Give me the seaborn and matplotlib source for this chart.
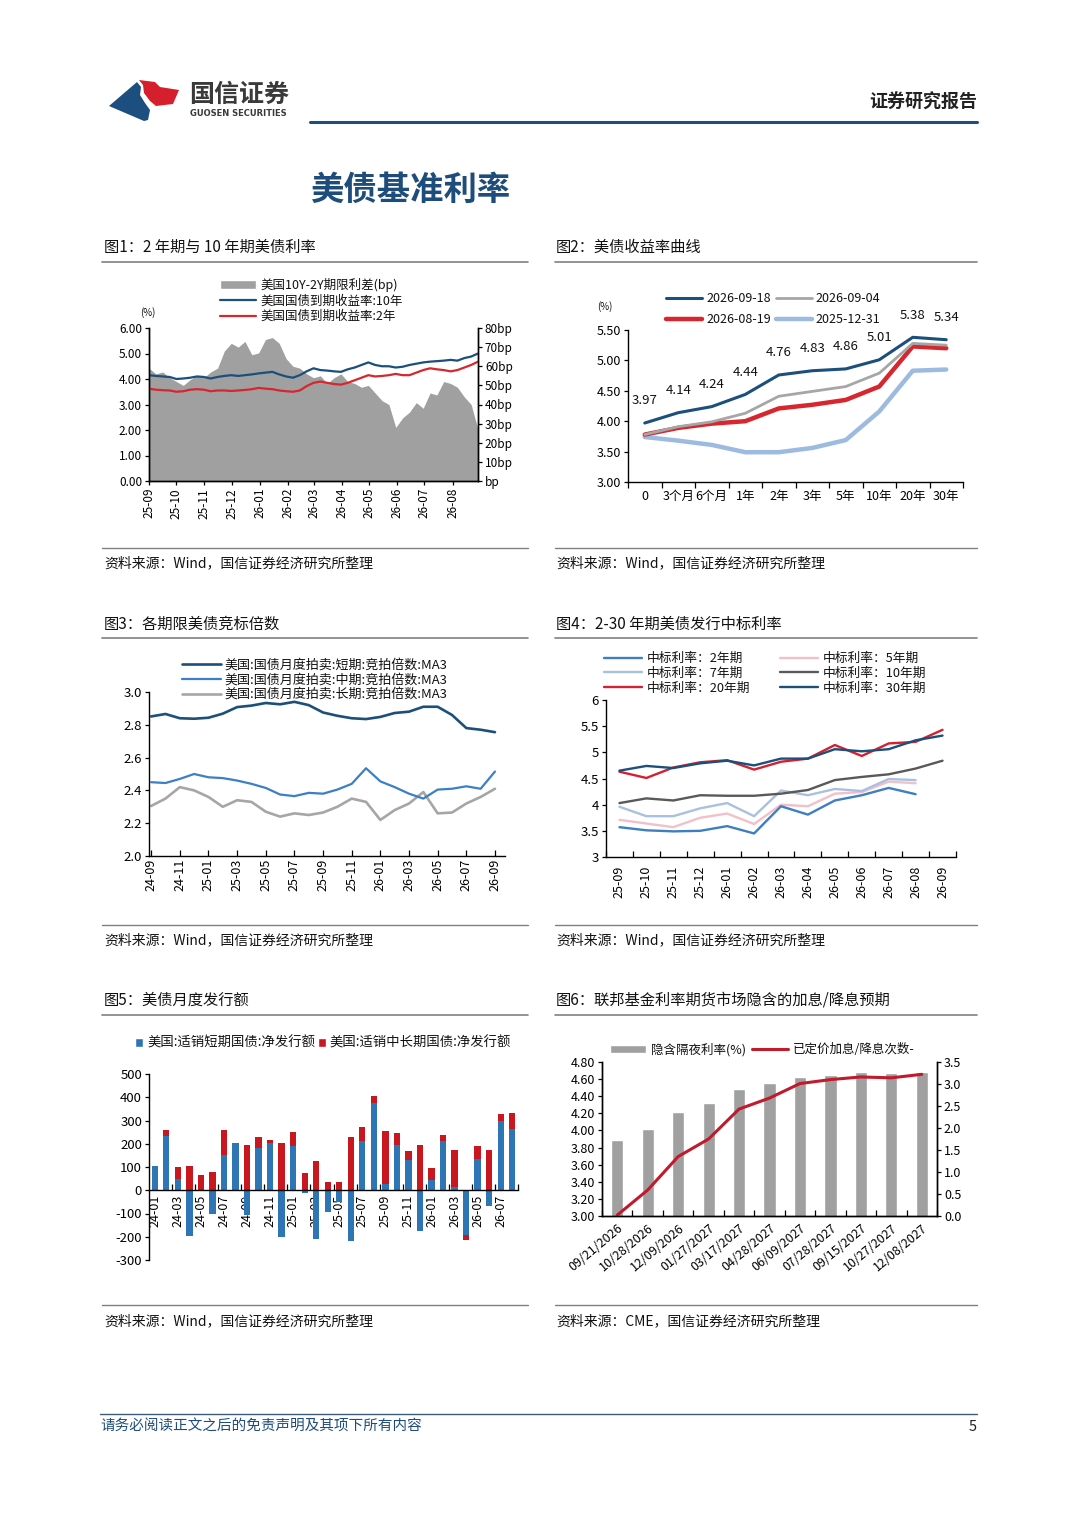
import numpy as np
import pandas as pd
import seaborn as sns
import matplotlib.pyplot as plt
from matplotlib.patches import Polygon, Patch
from matplotlib.lines import Line2D

sns.set_theme(style="ticks")
plt.rcParams["font.family"] = ["Noto Sans CJK SC", "DejaVu Sans"]
plt.rcParams["axes.unicode_minus"] = False
plt.rcParams["axes.edgecolor"] = "black"
plt.rcParams["text.color"] = "#111111"
plt.rcParams["xtick.color"] = "black"
plt.rcParams["ytick.color"] = "black"

W, H = 1080, 1527
NAVY = "#1b4f7c"
RED = "#d7262e"
GRAY = "#a0a0a0"

# 图1: 2年期与10年期美债利率 (周度读数)
f1_dates = pd.date_range("2025-09-01", "2026-08-29", periods=49)
f1_spread = [59, 56, 57, 54, 52, 50, 53, 55, 54, 57, 59, 68, 72, 70, 73, 66,
             67, 74, 75, 72, 64, 60, 59, 56, 54, 55, 51, 54, 56, 52, 51, 49,
             50, 46, 42, 40, 28, 33, 36, 41, 38, 46, 45, 52, 51, 49, 44, 40, 27]
f1_y10 = [4.15, 4.12, 4.10, 4.08, 4.00, 4.02, 4.05, 4.10, 4.08, 4.02, 4.08, 4.12,
          4.15, 4.12, 4.15, 4.18, 4.22, 4.25, 4.28, 4.18, 4.10, 4.05, 4.15, 4.30,
          4.42, 4.35, 4.33, 4.30, 4.28, 4.38, 4.45, 4.55, 4.65, 4.55, 4.50, 4.50,
          4.45, 4.48, 4.55, 4.60, 4.65, 4.68, 4.70, 4.72, 4.75, 4.72, 4.82, 4.88, 5.00]
f1_y2 = [3.62, 3.58, 3.56, 3.55, 3.50, 3.52, 3.58, 3.60, 3.58, 3.52, 3.55, 3.55,
         3.53, 3.55, 3.57, 3.60, 3.65, 3.62, 3.60, 3.55, 3.52, 3.50, 3.55, 3.72,
         3.85, 3.90, 3.85, 3.80, 3.78, 3.85, 3.95, 4.05, 4.15, 4.10, 4.12, 4.15,
         4.20, 4.15, 4.15, 4.25, 4.35, 4.42, 4.38, 4.35, 4.30, 4.35, 4.45, 4.55, 4.68]
f1_ticks = pd.date_range("2025-09-01", "2026-08-01", freq="MS")

# 图2: 美债收益率曲线
f2_tenors = ["0", "3个月", "6个月", "1年", "2年", "3年", "5年", "10年", "20年", "30年"]
f2_0918 = [3.97, 4.14, 4.24, 4.44, 4.76, 4.83, 4.86, 5.01, 5.38, 5.34]
f2_0904 = [3.78, 3.91, 3.99, 4.13, 4.41, 4.49, 4.57, 4.79, 5.28, 5.25]
f2_0819 = [3.78, 3.89, 3.96, 4.00, 4.21, 4.27, 4.35, 4.57, 5.23, 5.20]
f2_1231 = [3.74, 3.68, 3.61, 3.49, 3.49, 3.56, 3.69, 4.16, 4.83, 4.85]

# 图3: 竞标倍数 MA3 (月度)
f3_months = list(pd.date_range("2024-09-01", "2026-09-01", freq="MS").strftime("%y-%m"))
f3_short = [2.851, 2.866, 2.84, 2.837, 2.843, 2.868, 2.908, 2.917, 2.933, 2.925, 2.94,
            2.92, 2.875, 2.855, 2.84, 2.835, 2.848, 2.872, 2.88, 2.91, 2.91, 2.86,
            2.78, 2.77, 2.755]
f3_mid = [2.45, 2.445, 2.47, 2.50, 2.48, 2.475, 2.46, 2.44, 2.415, 2.375, 2.365, 2.385,
          2.38, 2.405, 2.44, 2.535, 2.455, 2.42, 2.38, 2.35, 2.405, 2.41, 2.425, 2.41, 2.515]
f3_long = [2.305, 2.35, 2.42, 2.40, 2.36, 2.30, 2.34, 2.33, 2.27, 2.24, 2.26, 2.25,
           2.265, 2.30, 2.35, 2.33, 2.22, 2.28, 2.32, 2.39, 2.26, 2.265, 2.32, 2.36, 2.41]

# 图4: 中标利率 (月度)
f4_months = list(pd.date_range("2025-09-01", "2026-09-01", freq="MS").strftime("%y-%m"))
f4_2y = [3.57, 3.51, 3.49, 3.50, 3.59, 3.45, 3.97, 3.81, 4.08, 4.18, 4.32, 4.20]
f4_5y = [3.71, 3.64, 3.57, 3.75, 3.83, 3.63, 4.00, 3.97, 4.21, 4.24, 4.44, 4.41]
f4_7y = [3.96, 3.78, 3.78, 3.93, 4.03, 3.78, 4.27, 4.18, 4.30, 4.26, 4.49, 4.47]
f4_10y = [4.03, 4.12, 4.08, 4.18, 4.17, 4.17, 4.21, 4.28, 4.47, 4.53, 4.58, 4.69, 4.84]
f4_20y = [4.63, 4.51, 4.71, 4.81, 4.85, 4.67, 4.82, 4.88, 5.14, 4.93, 5.17, 5.20, 5.43]
f4_30y = [4.65, 4.74, 4.70, 4.79, 4.84, 4.75, 4.88, 4.88, 5.06, 5.02, 5.06, 5.23, 5.32]

# 图5: 美债月度净发行额
f5_months = list(pd.date_range("2024-01-01", "2026-08-01", freq="MS").strftime("%y-%m"))
f5_short = [105, 232, 50, -197, -3, -100, 151, 205, -105, 181, 203, -200, 191, -12, -211, -94,
            -50, -219, 213, 374, 29, 196, 131, -174, 46, 213, 13, -193, 136, -66, 296, 263]
f5_long = [0, 26, 52, 103, 67, 80, 107, 0, 195, 46, 11, 205, 58, 74, 124, 37,
           36, 229, 58, 32, 227, 51, 36, 194, 48, 23, 158, -21, 53, 174, 30, 71]

# 图6: 联邦基金利率期货隐含预期
f6_dates = ["09/21/2026", "10/28/2026", "12/09/2026", "01/27/2027", "03/17/2027",
            "04/28/2027", "06/09/2027", "07/28/2027", "09/15/2027", "10/27/2027", "12/08/2027"]
f6_rate = [3.89, 4.02, 4.21, 4.32, 4.48, 4.55, 4.63, 4.65, 4.68, 4.67, 4.68]
f6_hikes = [0.02, 0.59, 1.35, 1.75, 2.43, 2.68, 3.01, 3.10, 3.16, 3.14, 3.22]

fig = plt.figure(figsize=(W / 100, H / 100), dpi=100)
fig.patch.set_facecolor("white")


def place(left, top, width, height):
    return fig.add_axes([left / W, 1 - (top + height) / H, width / W, height / H])


def fig_xy(x, y):
    return (x / W, 1 - y / H)


# ---------- page furniture ----------
pg = place(0, 0, W, H)
pg.set_xlim(0, W)
pg.set_ylim(H, 0)
pg.axis("off")

pg.add_patch(Polygon([(109, 106), (137, 82), (141, 87), (140, 95), (145, 103),
                      (150, 110), (148, 120), (144, 121)], closed=True, color="#1d4e80", lw=0))
pg.add_patch(Polygon([(139, 80), (155, 82), (160, 87), (179, 90), (173, 104),
                      (156, 106), (150, 101), (144, 93), (143, 85)], closed=True,
                     color="#d61f2c", lw=0))
pg.text(189, 95, "国信证券", fontsize=18, fontweight="bold", color="#3a3a3a", va="center")
pg.text(190, 114, "GUOSEN SECURITIES", fontsize=6, fontweight="bold", color="#3a3a3a",
        va="center", family=["DejaVu Sans"])
pg.text(977, 102, "证券研究报告", fontsize=13, fontweight="bold", color="#222222",
        ha="right", va="center")
pg.plot([310, 977], [122, 122], color="#1f4e79", lw=2.2)
pg.text(310, 190, "美债基准利率", fontsize=24, fontweight="bold", color="#1e4d7b", va="center")

titles = [(104, 247, "图1：2 年期与 10 年期美债利率"), (556, 247, "图2：美债收益率曲线"),
          (104, 624, "图3：各期限美债竞标倍数"), (556, 624, "图4：2-30 年期美债发行中标利率"),
          (104, 1000, "图5：美债月度发行额"), (556, 1000, "图6：联邦基金利率期货市场隐含的加息/降息预期")]
for x, y, t in titles:
    pg.text(x, y, t, fontsize=11, va="center", color="#111111")

for y in [262, 638, 1015]:
    pg.plot([102, 528], [y, y], color="#808080", lw=1.2)
    pg.plot([555, 977], [y, y], color="#808080", lw=1.2)
for y in [548, 925, 1305]:
    pg.plot([102, 528], [y, y], color="#808080", lw=1.0)
    pg.plot([555, 977], [y, y], color="#808080", lw=1.0)

sources = [(104, 563, "资料来源：Wind，国信证券经济研究所整理"), (556, 563, "资料来源：Wind，国信证券经济研究所整理"),
           (104, 940, "资料来源：Wind，国信证券经济研究所整理"), (556, 940, "资料来源：Wind，国信证券经济研究所整理"),
           (104, 1321, "资料来源：Wind，国信证券经济研究所整理"), (556, 1321, "资料来源：CME，国信证券经济研究所整理")]
for x, y, t in sources:
    pg.text(x, y, t, fontsize=10, va="center", color="#111111")

pg.plot([100, 977], [1414, 1414], color="#3d5a7a", lw=1.0)
pg.text(100, 1426, "请务必阅读正文之后的免责声明及其项下所有内容", fontsize=10.5,
        style="italic", color="#1e4d7b", va="center")
pg.text(977, 1427, "5", fontsize=10.5, color="#222222", ha="right", va="center")


def style_ax(ax, size=9):
    ax.tick_params(labelsize=size, length=3, width=0.9, pad=2)
    for s in ax.spines.values():
        s.set_linewidth(1.0)
        s.set_color("black")


# ---------- 图1 ----------
ax1 = place(149, 328, 329, 153)
ax1b = ax1.twinx()
ax1b.fill_between(f1_dates, 0, f1_spread, color=GRAY, lw=0)
sns.lineplot(x=f1_dates, y=f1_y10, ax=ax1, color=NAVY, lw=1.6)
sns.lineplot(x=f1_dates, y=f1_y2, ax=ax1, color=RED, lw=1.6)
ax1.set_zorder(ax1b.get_zorder() + 1)
ax1.patch.set_visible(False)
ax1.set_ylim(0, 6)
ax1b.set_ylim(0, 80)
ax1.set_xlim(f1_dates[0], f1_dates[-1])
ax1.set_yticks(np.arange(0, 6.01, 1))
ax1.set_yticklabels([f"{v:.2f}" for v in np.arange(0, 6.01, 1)])
ax1b.set_yticks(range(0, 81, 10))
ax1b.set_yticklabels([f"{v}bp" if v else "bp" for v in range(0, 81, 10)])
ax1.set_xticks(f1_ticks)
ax1.set_xticklabels(f1_ticks.strftime("%y-%m"), rotation=90)
for a in (ax1, ax1b):
    style_ax(a, 8.5)
    a.spines["top"].set_visible(False)
    a.set_xlabel("")
    a.set_ylabel("")
ax1b.tick_params(axis="y", right=True, left=False)
ax1.tick_params(axis="y", left=True, right=False)
ax1.text(-0.005, 1.08, "(%)", transform=ax1.transAxes, fontsize=7, ha="center")
ax1.legend([Patch(facecolor=GRAY), Line2D([], [], color=NAVY, lw=1.6),
            Line2D([], [], color=RED, lw=1.6)],
           ["美国10Y-2Y期限利差(bp)", "美国国债到期收益率:10年", "美国国债到期收益率:2年"],
           loc="upper left", bbox_to_anchor=fig_xy(220, 278), bbox_transform=fig.transFigure,
           frameon=False, fontsize=9, handlelength=2.9, handletextpad=0.3,
           labelspacing=0.2, borderpad=0, borderaxespad=0)

# ---------- 图2 ----------
ax2 = place(628, 330, 335, 152)
pos2 = np.arange(len(f2_tenors))
sns.lineplot(x=pos2, y=f2_1231, ax=ax2, color="#9dbbe0", lw=3.2)
sns.lineplot(x=pos2, y=f2_0819, ax=ax2, color=RED, lw=3.2)
sns.lineplot(x=pos2, y=f2_0904, ax=ax2, color="#a6a6a6", lw=2.0)
sns.lineplot(x=pos2, y=f2_0918, ax=ax2, color=NAVY, lw=2.2)
for i, v in enumerate(f2_0918):
    ax2.annotate(f"{v:.2f}", (i, v), xytext=(0, 16), textcoords="offset points",
                 ha="center", va="center", fontsize=9.5)
ax2.set_xlim(-0.5, 9.5)
ax2.set_ylim(3.0, 5.5)
ax2.set_yticks(np.arange(3.0, 5.51, 0.5))
ax2.set_yticklabels([f"{v:.2f}" for v in np.arange(3.0, 5.51, 0.5)])
ax2.set_xticks(pos2)
ax2.set_xticklabels(f2_tenors)
ax2.set_xticks(np.arange(-0.5, 9.6, 1), minor=True)
style_ax(ax2, 9)
ax2.tick_params(axis="x", which="major", length=0, pad=6)
ax2.tick_params(axis="x", which="minor", length=4, width=0.9, bottom=True)
for s in ["top", "right"]:
    ax2.spines[s].set_visible(False)
ax2.set_xlabel("")
ax2.set_ylabel("")
ax2.text(-0.07, 1.13, "(%)", transform=ax2.transAxes, fontsize=7, ha="center")
ax2.legend([Line2D([], [], color=NAVY, lw=2.2), Line2D([], [], color=RED, lw=3.2),
            Line2D([], [], color="#a6a6a6", lw=2.0), Line2D([], [], color="#9dbbe0", lw=3.2)],
           ["2026-09-18", "2026-08-19", "2026-09-04", "2025-12-31"], ncol=2,
           loc="upper left", bbox_to_anchor=fig_xy(666, 292), bbox_transform=fig.transFigure,
           frameon=False, fontsize=9, handlelength=2.9, handletextpad=0.3,
           labelspacing=0.65, columnspacing=0.4, borderpad=0, borderaxespad=0)

# ---------- 图3 ----------
ax3 = place(149, 692, 356, 164)
pos3 = np.arange(len(f3_months))
sns.lineplot(x=pos3, y=f3_long, ax=ax3, color="#a6a6a6", lw=1.9)
sns.lineplot(x=pos3, y=f3_mid, ax=ax3, color="#3b7fc4", lw=1.6)
sns.lineplot(x=pos3, y=f3_short, ax=ax3, color=NAVY, lw=1.9)
ax3.set_xlim(-0.15, 24.7)
ax3.set_ylim(2.0, 3.0)
ax3.set_yticks(np.arange(2.0, 3.01, 0.2))
ax3.set_yticklabels([f"{v:.1f}" for v in np.arange(2.0, 3.01, 0.2)])
ax3.set_xticks(pos3[::2])
ax3.set_xticklabels(f3_months[::2], rotation=90)
style_ax(ax3, 9.5)
ax3.tick_params(axis="x", direction="in", length=4, labelsize=9)
for s in ["top", "right"]:
    ax3.spines[s].set_visible(False)
ax3.set_xlabel("")
ax3.set_ylabel("")
ax3.legend([Line2D([], [], color=NAVY, lw=1.9), Line2D([], [], color="#3b7fc4", lw=1.6),
            Line2D([], [], color="#a6a6a6", lw=1.9)],
           ["美国:国债月度拍卖:短期:竞拍倍数:MA3", "美国:国债月度拍卖:中期:竞拍倍数:MA3",
            "美国:国债月度拍卖:长期:竞拍倍数:MA3"],
           loc="upper left", bbox_to_anchor=fig_xy(182, 659), bbox_transform=fig.transFigure,
           frameon=False, fontsize=9.4, handlelength=3.0, handletextpad=0.25,
           labelspacing=0.12, borderpad=0, borderaxespad=0)

# ---------- 图4 ----------
ax4 = place(606, 700, 350, 157)
pos4 = np.arange(len(f4_months))
c4 = {"2y": "#3d7fc1", "5y": "#f2c0c8", "7y": "#a9c1df", "10y": "#595959",
      "20y": "#d42030", "30y": NAVY}
sns.lineplot(x=pos4[:12], y=f4_5y, ax=ax4, color=c4["5y"], lw=1.7)
sns.lineplot(x=pos4[:12], y=f4_7y, ax=ax4, color=c4["7y"], lw=1.7)
sns.lineplot(x=pos4[:12], y=f4_2y, ax=ax4, color=c4["2y"], lw=1.7)
sns.lineplot(x=pos4, y=f4_10y, ax=ax4, color=c4["10y"], lw=1.7)
sns.lineplot(x=pos4, y=f4_20y, ax=ax4, color=c4["20y"], lw=1.7)
sns.lineplot(x=pos4, y=f4_30y, ax=ax4, color=c4["30y"], lw=1.7)
ax4.set_xlim(-0.5, 12.5)
ax4.set_ylim(3, 6)
ax4.set_yticks(np.arange(3, 6.01, 0.5))
ax4.set_yticklabels([f"{v:g}" for v in np.arange(3, 6.01, 0.5)])
ax4.set_xticks(pos4)
ax4.set_xticklabels(f4_months, rotation=90)
ax4.set_xticks(np.arange(-0.5, 12.6, 1), minor=True)
style_ax(ax4, 9.5)
ax4.tick_params(axis="x", which="major", length=0, pad=6, labelsize=9)
ax4.tick_params(axis="x", which="minor", direction="in", length=4, width=0.9, bottom=True)
for s in ["top", "right"]:
    ax4.spines[s].set_visible(False)
ax4.set_xlabel("")
ax4.set_ylabel("")
ax4.legend([Line2D([], [], color=c4[k], lw=1.7) for k in ["2y", "7y", "20y", "5y", "10y", "30y"]],
           ["中标利率：2年期", "中标利率：7年期", "中标利率：20年期",
            "中标利率：5年期", "中标利率：10年期", "中标利率：30年期"], ncol=2,
           loc="upper left", bbox_to_anchor=fig_xy(604, 652), bbox_transform=fig.transFigure,
           frameon=False, fontsize=9.2, handlelength=3.0, handletextpad=0.35,
           labelspacing=0.15, columnspacing=2.3, borderpad=0, borderaxespad=0)

# ---------- 图5 ----------
ax5 = place(149, 1074, 369, 186)
pos5 = np.arange(len(f5_months))
short5 = np.array(f5_short)
long5 = np.array(f5_long)
long_bottom = np.where(long5 >= 0, np.maximum(short5, 0), np.minimum(short5, 0))
ax5.bar(pos5, short5, width=0.55, color="#2e75b6", lw=0)
ax5.bar(pos5, long5, bottom=long_bottom, width=0.55, color="#c8171e", lw=0)
ax5.set_xlim(-0.5, 31.5)
ax5.set_ylim(-300, 500)
ax5.set_yticks(range(-300, 501, 100))
ax5.spines["bottom"].set_position(("data", 0))
for s in ["top", "right"]:
    ax5.spines[s].set_visible(False)
ax5.set_xticks(pos5[::2])
ax5.set_xticklabels(f5_months[::2], rotation=90)
ax5.set_xticks(np.arange(1.5, 32, 2), minor=True)
style_ax(ax5, 9.5)
ax5.tick_params(axis="x", which="major", length=0, pad=3, labelsize=9)
ax5.tick_params(axis="x", which="minor", direction="in", length=4, width=0.9, bottom=True)
ax5.legend([Patch(facecolor="#2e75b6"), Patch(facecolor="#c8171e")],
           ["美国:适销短期国债:净发行额", "美国:适销中长期国债:净发行额"], ncol=2,
           loc="upper left", bbox_to_anchor=fig_xy(135, 1036), bbox_transform=fig.transFigure,
           frameon=False, fontsize=9.6, handlelength=0.6, handleheight=0.6, handletextpad=0.3,
           columnspacing=0.2, borderpad=0, borderaxespad=0)

# ---------- 图6 ----------
ax6 = place(602, 1062, 335, 154)
sns.barplot(x=f6_dates, y=f6_rate, ax=ax6, color=GRAY, width=0.4, saturation=1,
            errorbar=None)
ax6b = ax6.twinx()
sns.lineplot(x=np.arange(len(f6_dates)), y=f6_hikes, ax=ax6b, color="#c01a2c", lw=2.2)
ax6.set_xlim(-0.5, 10.5)
ax6.set_ylim(3.0, 4.8)
ax6b.set_ylim(0, 3.5)
ax6.set_yticks(np.arange(3.0, 4.81, 0.2))
ax6.set_yticklabels([f"{v:.2f}" for v in np.arange(3.0, 4.81, 0.2)])
ax6b.set_yticks(np.arange(0, 3.51, 0.5))
ax6b.set_yticklabels([f"{v:.1f}" for v in np.arange(0, 3.51, 0.5)])
ax6.set_xticks(range(len(f6_dates)))
ax6.set_xticklabels(f6_dates, rotation=40, ha="right", rotation_mode="anchor")
ax6.set_xticks(np.arange(-0.5, 10.6, 1), minor=True)
for a in (ax6, ax6b):
    style_ax(a, 9)
    a.spines["top"].set_visible(False)
    a.set_xlabel("")
    a.set_ylabel("")
ax6.tick_params(axis="x", which="major", length=0, pad=4)
ax6.tick_params(axis="x", which="minor", direction="in", length=4, width=0.9, bottom=True)
ax6b.tick_params(axis="y", right=True, left=False)
ax6.tick_params(axis="y", left=True, right=False)
ax6.legend([Patch(facecolor=GRAY), Line2D([], [], color="#c01a2c", lw=2.2)],
           ["隐含隔夜利率(%)", "已定价加息/降息次数-"], ncol=2,
           loc="upper left", bbox_to_anchor=fig_xy(610, 1043), bbox_transform=fig.transFigure,
           frameon=False, fontsize=9, handlelength=2.9, handletextpad=0.35,
           columnspacing=0.5, borderpad=0, borderaxespad=0)

fig.savefig("out.png", dpi=100)
